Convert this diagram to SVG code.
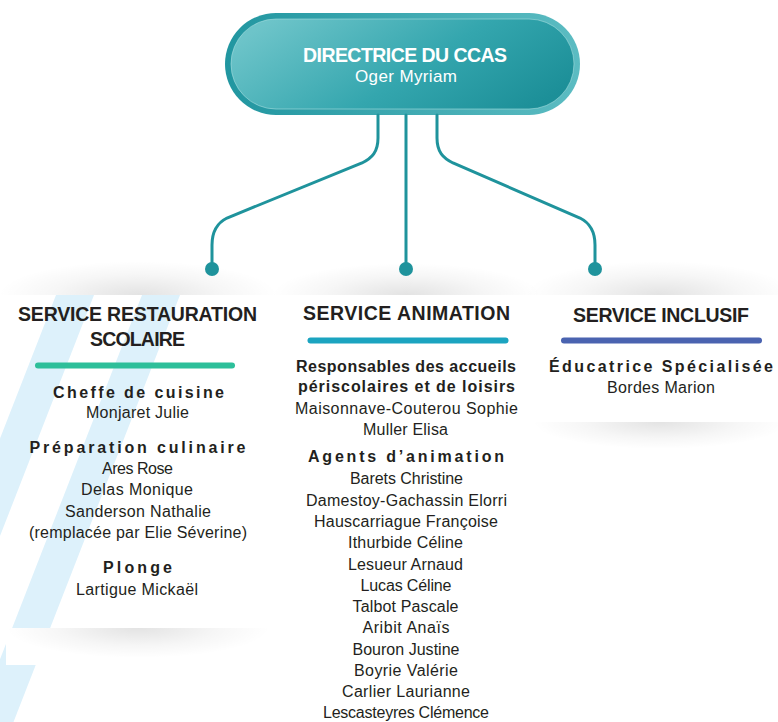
<svg xmlns="http://www.w3.org/2000/svg" width="778" height="722" viewBox="0 0 778 722">
<defs>
<style>
text{font-family:"Liberation Sans",Arial,sans-serif;fill:#231f20;text-anchor:middle}
.h{font-size:19.5px;font-weight:bold}
.s{font-size:16px;font-weight:bold}
.b{font-size:16px;font-weight:bold}
.n{font-size:16px}
.w{fill:#ffffff}
.conn{fill:none;stroke:#1f939c;stroke-width:3;stroke-linecap:round}
.dot{fill:#1f939c}
.stripe{fill:#ddf1fb}
</style>
<linearGradient id="ring" x1="0" y1="0" x2="1" y2="0">
<stop offset="0" stop-color="#2196a0"/>
<stop offset="1" stop-color="#5cbcc2"/>
</linearGradient>
<linearGradient id="fill" x1="0" y1="0.3" x2="1" y2="0.7">
<stop offset="0" stop-color="#6dc4c9"/>
<stop offset="0.55" stop-color="#34a6ae"/>
<stop offset="1" stop-color="#1c8f98"/>
</linearGradient>
<radialGradient id="sh">
<stop offset="0" stop-color="#000" stop-opacity="0.11"/>
<stop offset="0.6" stop-color="#000" stop-opacity="0.035"/>
<stop offset="1" stop-color="#000" stop-opacity="0"/>
</radialGradient>
<clipPath id="belowL"><rect x="0" y="628" width="300" height="60"/></clipPath>
<clipPath id="belowR"><rect x="520" y="422" width="258" height="60"/></clipPath>
</defs>

<!-- top shadows of cards -->
<ellipse cx="138" cy="295" rx="140" ry="34" fill="url(#sh)"/>
<ellipse cx="406" cy="295" rx="135" ry="32" fill="url(#sh)"/>
<ellipse cx="660" cy="295" rx="135" ry="34" fill="url(#sh)"/>
<rect x="0" y="295" width="778" height="427" fill="#ffffff"/>

<!-- decorative stripes -->
<polygon class="stripe" points="56,295 94,295 -72.5,722 -110.5,722"/>
<polygon class="stripe" points="142,295 180,295 13.5,722 -24.5,722"/>

<!-- bottom shadows -->
<rect x="6" y="628" width="284" height="37" fill="#ffffff"/>
<ellipse cx="138" cy="628" rx="132" ry="30" fill="url(#sh)" clip-path="url(#belowL)"/>
<ellipse cx="660" cy="422" rx="128" ry="27" fill="url(#sh)" clip-path="url(#belowR)"/>

<g id="directrice">
<rect x="225" y="13" width="355" height="102" rx="51" fill="url(#ring)"/>
<rect x="231" y="19" width="343" height="90" rx="45" fill="url(#fill)" stroke="#a6dde0" stroke-opacity="0.6" stroke-width="1"/>
<text class="w" x="405" y="62" style="font-size:19.5px;font-weight:bold" textLength="204">DIRECTRICE DU CCAS</text>
<text class="w" x="406" y="82" style="font-size:17px" textLength="102">Oger Myriam</text>
</g>

<g id="connectors">
<path class="conn" d="M378,115 V138 C378,152 372,158 362,163 L227,218 C217,223 212,232 212,245 V269"/>
<path class="conn" d="M406,115 V269"/>
<path class="conn" d="M437,115 V138 C437,152 443,158 453,163 L580,218 C590,223 595,232 595,245 V269"/>
<circle class="dot" cx="212" cy="269" r="7"/>
<circle class="dot" cx="406" cy="269" r="7"/>
<circle class="dot" cx="595" cy="269" r="7"/>
</g>

<g id="service-restauration">
<text class="h" x="137.5" y="321" textLength="239">SERVICE RESTAURATION</text>
<text class="h" x="137.5" y="346" textLength="95">SCOLAIRE</text>
<rect x="35" y="362.5" width="200" height="6" rx="3" fill="#2dbf9a"/>
<text class="s" x="138.5" y="398" textLength="171">Cheffe de cuisine</text>
<text class="n" x="137.5" y="418" textLength="103">Monjaret Julie</text>
<text class="s" x="137.5" y="453" textLength="216">Préparation culinaire</text>
<text class="n" x="137.5" y="474" textLength="71">Ares Rose</text>
<text class="n" x="137" y="495" textLength="112">Delas Monique</text>
<text class="n" x="138" y="516.5" textLength="146">Sanderson Nathalie</text>
<text class="n" x="138" y="537.5" textLength="218">(remplacée par Elie Séverine)</text>
<text class="s" x="137.5" y="573" textLength="69">Plonge</text>
<text class="n" x="137" y="595" textLength="122">Lartigue Mickaël</text>
</g>

<g id="service-animation">
<text class="h" x="406.5" y="320" textLength="207">SERVICE ANIMATION</text>
<rect x="307.5" y="337.5" width="201" height="6" rx="3" fill="#1ba4c0"/>
<text class="b" x="406" y="371.7" textLength="220">Responsables des accueils</text>
<text class="b" x="406.5" y="392" textLength="217">périscolaires et de loisirs</text>
<text class="n" x="406.5" y="414" textLength="223">Maisonnave-Couterou Sophie</text>
<text class="n" x="405.5" y="435" textLength="85">Muller Elisa</text>
<text class="s" x="406" y="461.7" textLength="196">Agents d’animation</text>
<text class="n" x="406.5" y="484.3" textLength="113">Barets Christine</text>
<text class="n" x="406.5" y="505.7" textLength="201">Damestoy-Gachassin Elorri</text>
<text class="n" x="406" y="527.3" textLength="184">Hauscarriague Françoise</text>
<text class="n" x="405.5" y="548.3" textLength="115">Ithurbide Céline</text>
<text class="n" x="405.5" y="570" textLength="115">Lesueur Arnaud</text>
<text class="n" x="406" y="590.7" textLength="91">Lucas Céline</text>
<text class="n" x="405.5" y="612.3" textLength="106">Talbot Pascale</text>
<text class="n" x="406" y="633.3" textLength="87">Aribit Anaïs</text>
<text class="n" x="406" y="655" textLength="107">Bouron Justine</text>
<text class="n" x="406" y="675.7" textLength="104">Boyrie Valérie</text>
<text class="n" x="406" y="697.3" textLength="128">Carlier Laurianne</text>
<text class="n" x="406" y="718.3" textLength="166">Lescasteyres Clémence</text>
</g>

<g id="service-inclusif">
<text class="h" x="661" y="321.7" textLength="176">SERVICE INCLUSIF</text>
<rect x="561" y="337.5" width="201" height="6" rx="3" fill="#4a63b0"/>
<text class="s" x="661" y="371.7" textLength="224">Éducatrice Spécialisée</text>
<text class="n" x="661" y="392.7" textLength="108">Bordes Marion</text>
</g>
</svg>
